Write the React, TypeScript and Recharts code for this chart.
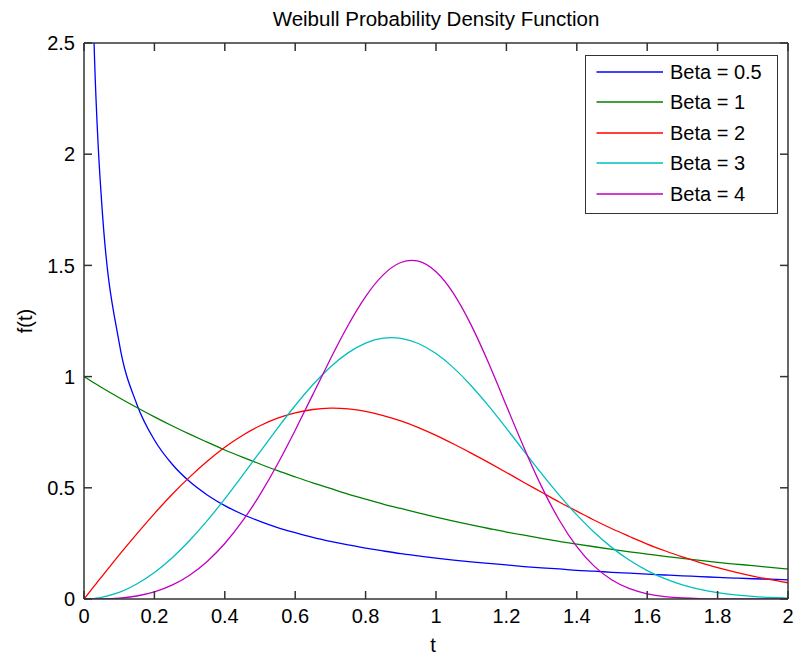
import React from 'react';
import { LineChart, Line, XAxis, YAxis, Legend } from 'recharts';

const T = [0, 0.01, 0.02, 0.03, 0.04, 0.05, 0.1, 0.15, 0.2, 0.25, 0.3, 0.35, 0.4, 0.45, 0.5, 0.55, 0.6, 0.65, 0.7, 0.75, 0.8, 0.85, 0.9, 0.95, 1, 1.05, 1.1, 1.15, 1.2, 1.25, 1.3, 1.35, 1.4, 1.45, 1.5, 1.55, 1.6, 1.65, 1.7, 1.75, 1.8, 1.85, 1.9, 1.95, 2];

const beta05 = [null, 4.524, 3.07, 2.428, 2.047, 1.788, 1.152, 0.876, 0.715, 0.607, 0.528, 0.468, 0.42, 0.381, 0.349, 0.321, 0.298, 0.277, 0.259, 0.243, 0.229, 0.216, 0.204, 0.194, 0.184, 0.175, 0.167, 0.16, 0.153, 0.146, 0.14, 0.135, 0.129, 0.125, 0.12, 0.116, 0.112, 0.108, 0.104, 0.101, 0.097, 0.094, 0.091, 0.089, 0.086];
const beta1 = [1, 0.99, 0.98, 0.97, 0.961, 0.951, 0.905, 0.861, 0.819, 0.779, 0.741, 0.705, 0.67, 0.638, 0.607, 0.577, 0.549, 0.522, 0.497, 0.472, 0.449, 0.427, 0.407, 0.387, 0.368, 0.35, 0.333, 0.317, 0.301, 0.287, 0.273, 0.259, 0.247, 0.235, 0.223, 0.212, 0.202, 0.192, 0.183, 0.174, 0.165, 0.157, 0.15, 0.142, 0.135];
const beta2 = [0, 0.02, 0.04, 0.06, 0.08, 0.0998, 0.198, 0.293, 0.384, 0.47, 0.548, 0.619, 0.682, 0.735, 0.779, 0.813, 0.837, 0.852, 0.858, 0.855, 0.844, 0.825, 0.801, 0.771, 0.736, 0.697, 0.656, 0.613, 0.569, 0.524, 0.48, 0.436, 0.395, 0.354, 0.316, 0.281, 0.247, 0.217, 0.189, 0.164, 0.141, 0.121, 0.103, 0.087, 0.073];
const beta3 = [0, 0.0003, 0.0012, 0.0027, 0.0048, 0.0075, 0.03, 0.0673, 0.119, 0.1846, 0.2628, 0.3521, 0.4502, 0.5546, 0.6619, 0.7684, 0.8702, 0.9632, 1.0432, 1.1067, 1.1507, 1.1728, 1.1722, 1.1487, 1.1036, 1.0393, 0.9591, 0.867, 0.7674, 0.6649, 0.5634, 0.467, 0.3781, 0.2992, 0.231, 0.1739, 0.1278, 0.0915, 0.0637, 0.0432, 0.0285, 0.0183, 0.0114, 0.0068, 0.004];
const beta4 = [0, 0, 0, 0.0001, 0.0003, 0.0005, 0.004, 0.0135, 0.0319, 0.0623, 0.1071, 0.1689, 0.2495, 0.3498, 0.4697, 0.6073, 0.7589, 0.9189, 1.0792, 1.2299, 1.3597, 1.4575, 1.5131, 1.5189, 1.4716, 1.3734, 1.2314, 1.0585, 0.8689, 0.6805, 0.5053, 0.3553, 0.2355, 0.1467, 0.0855, 0.0463, 0.0233, 0.0109, 0.0046, 0.0018, 0.0006, 0.0002, 0.0001, 0, 0];

const X_TICKS = [0, 0.2, 0.4, 0.6, 0.8, 1, 1.2, 1.4, 1.6, 1.8, 2];
const Y_TICKS = [0, 0.5, 1, 1.5, 2, 2.5];

const SERIES = [
  { key: 'b05', name: 'Beta = 0.5', color: '#0000ff', values: beta05, curve: 'monotone' },
  { key: 'b1', name: 'Beta = 1', color: '#008000', values: beta1, curve: 'natural' },
  { key: 'b2', name: 'Beta = 2', color: '#ff0000', values: beta2, curve: 'natural' },
  { key: 'b3', name: 'Beta = 3', color: '#00bfbf', values: beta3, curve: 'natural' },
  { key: 'b4', name: 'Beta = 4', color: '#bf00bf', values: beta4, curve: 'natural' },
];

const data = T.map((t, i) => {
  const row: any = { t };
  SERIES.forEach((s) => { row[s.key] = s.values[i]; });
  return row;
});

const FONT = '"Liberation Sans", Arial, Helvetica, sans-serif';
const AX = '#333333';
const FS = 20;

const BottomTick = (p: any) => (
  <g>
    <line x1={p.x} x2={p.x} y1={p.y} y2={p.y - 8} stroke={AX} strokeWidth={1.5} />
    <text x={p.x} y={p.y + 24} textAnchor="middle" fontSize={FS} fontFamily={FONT} fill="#000">{String(p.payload.value)}</text>
  </g>
);
const TopTick = (p: any) => (
  <line x1={p.x} x2={p.x} y1={p.y} y2={p.y + 8} stroke={AX} strokeWidth={1.5} />
);
const LeftTick = (p: any) => (
  <g>
    <line x1={p.x} x2={p.x + 8} y1={p.y} y2={p.y} stroke={AX} strokeWidth={1.5} />
    <text x={p.x - 9} y={p.y} dy="0.36em" textAnchor="end" fontSize={FS} fontFamily={FONT} fill="#000">{String(p.payload.value)}</text>
  </g>
);
const RightTick = (p: any) => (
  <line x1={p.x} x2={p.x - 8} y1={p.y} y2={p.y} stroke={AX} strokeWidth={1.5} />
);

const TitleLabel = (p: any) => {
  const vb = p.viewBox;
  return (
    <text x={vb.x + vb.width / 2} y={vb.y - 16} textAnchor="middle" fontSize={20.5} fontFamily={FONT} fill="#000">
      Weibull Probability Density Function
    </text>
  );
};
const XLabel = (p: any) => {
  const vb = p.viewBox;
  return (
    <text x={vb.x + vb.width / 2 - 3} y={vb.y + 53} textAnchor="middle" fontSize={FS} fontFamily={FONT} fill="#000">t</text>
  );
};
const YLabel = (p: any) => {
  const vb = p.viewBox;
  const cx = vb.x + 25;
  const cy = vb.y + vb.height / 2;
  return (
    <text x={cx} y={cy} transform={`rotate(-90, ${cx}, ${cy})`} textAnchor="middle" dominantBaseline="central" fontSize={FS} fontFamily={FONT} fill="#000">f(t)</text>
  );
};

const LegendBox = (props: any) => {
  const payload = props.payload || [];
  return (
    <div style={{ boxSizing: 'border-box', width: 193, height: 159, border: `1.5px solid ${AX}`, background: '#fff', paddingTop: 0.5 }}>
      {payload.map((e: any) => (
        <div key={e.value} style={{ display: 'flex', alignItems: 'center', height: 30.5 }}>
          <svg width={77} height={4} style={{ display: 'block' }}>
            <line x1={10.5} x2={77} y1={2} y2={2} stroke={e.color} strokeWidth={1.5} />
          </svg>
          <span style={{ marginLeft: 7, fontSize: FS, fontFamily: FONT, color: '#000', lineHeight: '20px', whiteSpace: 'nowrap' }}>{e.value}</span>
        </div>
      ))}
    </div>
  );
};

export default function App() {
  return (
    <div style={{ position: 'absolute', left: 0, top: 0, width: 794, height: 657, background: '#fff' }}>
      <LineChart width={794} height={657} data={data} margin={{ top: 42, right: 5, bottom: 28, left: 0 }}>
        <XAxis
          dataKey="t"
          type="number"
          domain={[0, 2]}
          ticks={X_TICKS}
          allowDataOverflow
          height={30}
          tickSize={0}
          tickMargin={0}
          tickLine={false}
          axisLine={{ stroke: AX, strokeWidth: 1.5 }}
          tick={BottomTick}
          interval={0}
          label={XLabel}
        />
        <XAxis
          xAxisId="top"
          orientation="top"
          dataKey="t"
          type="number"
          domain={[0, 2]}
          ticks={X_TICKS}
          allowDataOverflow
          height={1}
          tickSize={0}
          tickMargin={0}
          tickLine={false}
          axisLine={{ stroke: AX, strokeWidth: 1.5 }}
          tick={TopTick}
          interval={0}
          label={TitleLabel}
        />
        <YAxis
          type="number"
          domain={[0, 2.5]}
          ticks={Y_TICKS}
          allowDataOverflow
          width={84}
          tickSize={0}
          tickMargin={0}
          tickLine={false}
          axisLine={{ stroke: AX, strokeWidth: 1.5 }}
          tick={LeftTick}
          interval={0}
          label={YLabel}
        />
        <YAxis
          yAxisId="right"
          orientation="right"
          type="number"
          domain={[0, 2.5]}
          ticks={Y_TICKS}
          allowDataOverflow
          width={1}
          tickSize={0}
          tickMargin={0}
          tickLine={false}
          axisLine={{ stroke: AX, strokeWidth: 1.5 }}
          tick={RightTick}
          interval={0}
        />
        <Legend
          layout="vertical"
          align="center"
          verticalAlign="middle"
          content={LegendBox}
          wrapperStyle={{ position: 'absolute', left: 585, top: 55, width: 193, height: 159 }}
        />
        {SERIES.map((s, i) => (
          <Line
            key={s.key}
            dataKey={s.key}
            name={s.name}
            xAxisId={i === SERIES.length - 1 ? 'top' : 0}
            yAxisId={i === SERIES.length - 1 ? 'right' : 0}
            type={s.curve as any}
            stroke={s.color}
            strokeWidth={1.3}
            dot={false}
            activeDot={false}
            isAnimationActive={false}
            connectNulls={false}
          />
        ))}
      </LineChart>
    </div>
  );
}
